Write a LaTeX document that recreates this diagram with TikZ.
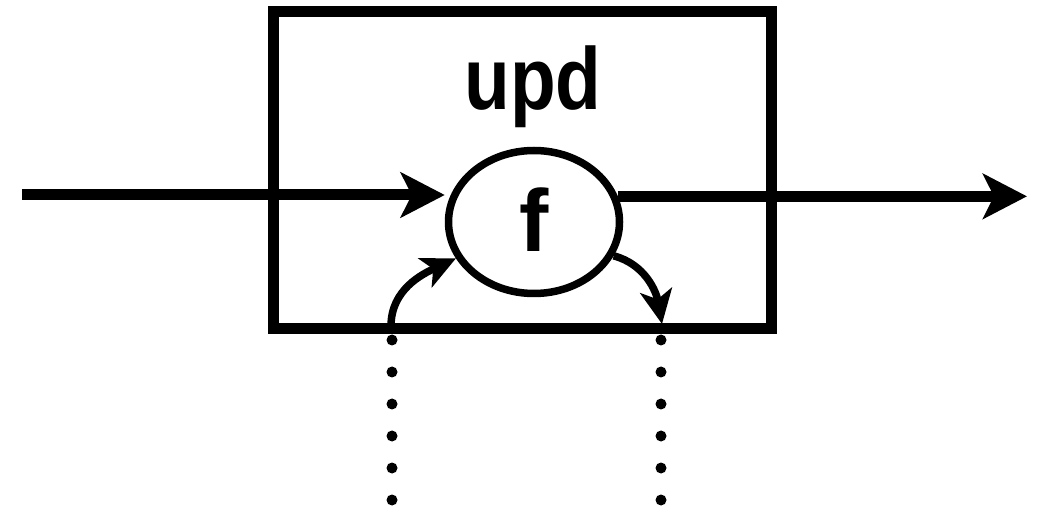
\documentclass[tikz,border=0pt]{standalone}
\usepackage{fontspec}
\setmainfont{Liberation Sans}
\usetikzlibrary{arrows.meta,shapes.geometric}
\begin{document}
\begin{tikzpicture}[x=1pt,y=-1pt,
  frame/.style={draw,line width=11pt,rectangle,inner sep=0pt,
    minimum width=498pt,minimum height=317pt},
  fn/.style={draw,line width=7.5pt,ellipse,inner sep=0pt,fill=white,
    minimum width=171pt,minimum height=143pt},
  lbl/.style={anchor=base,inner sep=0pt,font=\fontsize{88}{92}\selectfont\bfseries},
  bigarrow/.style={line width=11pt,-{Stealth[length=44pt,width=45pt,inset=11pt]}},
  smallarrow/.style={line width=7.5pt,-{Stealth[length=34pt,width=32pt,inset=9pt]}},
  dots/.style={line width=11pt,line cap=round,dash pattern=on 0pt off 32pt}]
  \useasboundingbox (0,0) rectangle (1047,510);
  % enclosing block and its title
  \node[frame] (box) at (522,170.5) {};
  \node[lbl,xscale=0.85] (title) at (533,110) {upd};
  % the function inside the block
  \node[fn] (f) at (534,222) {};
  \node[lbl] (fname) at (534,252) {f};
  % main data flow
  \coordinate (src) at (22,195);
  \coordinate (dst) at (1027,195);
  \draw[bigarrow] (src) -- (src -| f.west);
  \draw[bigarrow] (f.17) -- (f.17 -| dst);
  % state in and out through the bottom of the block
  \coordinate (sin) at (391,326);
  \coordinate (sout) at (662,324);
  \draw[smallarrow] (sin) to[out=90,in=205] (f.205);
  \draw[smallarrow] (f.-23) to[out=-15,in=100] (sout);
  % dotted continuation below the block
  \coordinate (l1) at (392,340);
  \coordinate (l2) at (392,500.1);
  \coordinate (r1) at (661,340);
  \coordinate (r2) at (661,500.1);
  \draw[dots] (l1) -- (l2);
  \draw[dots] (r1) -- (r2);
\end{tikzpicture}
\end{document}
